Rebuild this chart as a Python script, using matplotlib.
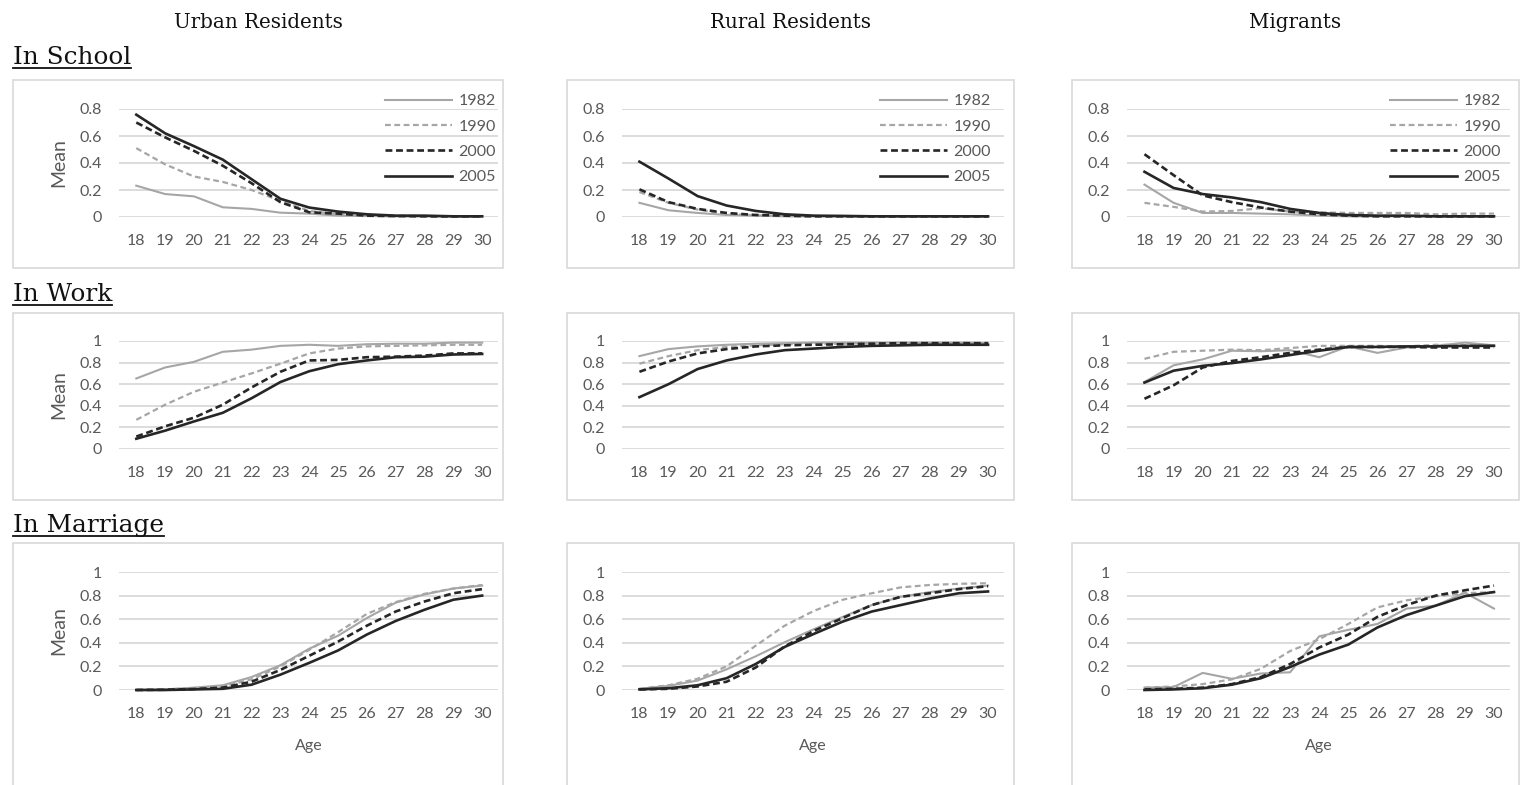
import matplotlib
matplotlib.use("Agg")
import matplotlib.pyplot as plt
from matplotlib.patches import Rectangle
from matplotlib.lines import Line2D

W, H = 1525, 785

ages = list(range(18, 31))
years = ["1982", "1990", "2000", "2005"]
groups = ["Urban Residents", "Rural Residents", "Migrants"]
outcomes = ["In School", "In Work", "In Marriage"]

# ---- In School ----
school_urban = {
    "1982": [0.232, 0.17, 0.153, 0.072, 0.06, 0.032, 0.025, 0.01, 0.007, 0.005, 0.005, 0.005, 0.005],
    "1990": [0.51, 0.39, 0.30, 0.26, 0.20, 0.12, 0.045, 0.02, 0.01, 0.007, 0.005, 0.005, 0.005],
    "2000": [0.70, 0.59, 0.49, 0.38, 0.25, 0.11, 0.035, 0.025, 0.01, 0.007, 0.005, 0.005, 0.005],
    "2005": [0.758, 0.62, 0.525, 0.425, 0.28, 0.135, 0.07, 0.04, 0.02, 0.01, 0.01, 0.005, 0.005],
}
school_rural = {
    "1982": [0.105, 0.05, 0.03, 0.015, 0.01, 0.005, 0.005, 0.005, 0.005, 0.005, 0.005, 0.005, 0.005],
    "1990": [0.185, 0.105, 0.055, 0.025, 0.012, 0.008, 0.005, 0.005, 0.005, 0.005, 0.005, 0.005, 0.005],
    "2000": [0.205, 0.11, 0.06, 0.03, 0.015, 0.01, 0.005, 0.005, 0.005, 0.005, 0.005, 0.005, 0.005],
    "2005": [0.41, 0.285, 0.155, 0.085, 0.045, 0.02, 0.01, 0.008, 0.005, 0.005, 0.005, 0.005, 0.005],
}
school_migr = {
    "1982": [0.24, 0.105, 0.03, 0.03, 0.025, 0.02, 0.01, 0.005, 0.005, 0.005, 0.005, 0.005, 0.005],
    "1990": [0.105, 0.075, 0.04, 0.045, 0.065, 0.04, 0.035, 0.03, 0.03, 0.03, 0.02, 0.025, 0.025],
    "2000": [0.465, 0.31, 0.16, 0.11, 0.07, 0.04, 0.02, 0.01, 0.005, 0.005, 0.005, 0.005, 0.005],
    "2005": [0.335, 0.215, 0.17, 0.145, 0.11, 0.06, 0.03, 0.015, 0.01, 0.01, 0.005, 0.005, 0.005],
}

# ---- In Work ----
work_urban = {
    "1982": [0.653, 0.755, 0.807, 0.90, 0.92, 0.955, 0.965, 0.955, 0.97, 0.975, 0.975, 0.985, 0.985],
    "1990": [0.27, 0.41, 0.53, 0.615, 0.70, 0.79, 0.885, 0.93, 0.95, 0.955, 0.96, 0.965, 0.965],
    "2000": [0.115, 0.21, 0.29, 0.41, 0.57, 0.715, 0.82, 0.825, 0.85, 0.855, 0.865, 0.885, 0.885],
    "2005": [0.095, 0.17, 0.255, 0.335, 0.47, 0.62, 0.72, 0.785, 0.82, 0.85, 0.855, 0.875, 0.88],
}
work_rural = {
    "1982": [0.86, 0.925, 0.95, 0.965, 0.975, 0.98, 0.985, 0.985, 0.985, 0.985, 0.985, 0.985, 0.98],
    "1990": [0.79, 0.86, 0.915, 0.945, 0.96, 0.97, 0.975, 0.975, 0.98, 0.98, 0.98, 0.98, 0.98],
    "2000": [0.715, 0.81, 0.885, 0.925, 0.95, 0.96, 0.965, 0.97, 0.975, 0.98, 0.98, 0.98, 0.98],
    "2005": [0.48, 0.60, 0.74, 0.82, 0.875, 0.915, 0.93, 0.945, 0.955, 0.96, 0.965, 0.965, 0.965],
}
work_migr = {
    "1982": [0.62, 0.775, 0.83, 0.91, 0.905, 0.915, 0.85, 0.95, 0.89, 0.94, 0.955, 0.985, 0.96],
    "1990": [0.835, 0.90, 0.91, 0.92, 0.915, 0.935, 0.955, 0.955, 0.955, 0.95, 0.965, 0.96, 0.96],
    "2000": [0.465, 0.59, 0.755, 0.815, 0.85, 0.89, 0.92, 0.945, 0.945, 0.945, 0.94, 0.94, 0.94],
    "2005": [0.615, 0.725, 0.77, 0.795, 0.83, 0.87, 0.91, 0.945, 0.945, 0.95, 0.95, 0.955, 0.955],
}

# ---- In Marriage ----
marr_urban = {
    "1982": [0.0, 0.005, 0.02, 0.04, 0.11, 0.21, 0.35, 0.46, 0.61, 0.74, 0.81, 0.86, 0.885],
    "1990": [0.0, 0.005, 0.015, 0.03, 0.09, 0.20, 0.34, 0.49, 0.645, 0.745, 0.815, 0.86, 0.89],
    "2000": [0.0, 0.002, 0.008, 0.02, 0.07, 0.17, 0.29, 0.41, 0.545, 0.665, 0.75, 0.82, 0.855],
    "2005": [0.0, 0.0, 0.005, 0.01, 0.045, 0.13, 0.23, 0.335, 0.47, 0.585, 0.68, 0.765, 0.80],
}
marr_rural = {
    "1982": [0.01, 0.035, 0.08, 0.175, 0.285, 0.405, 0.515, 0.62, 0.72, 0.79, 0.83, 0.86, 0.885],
    "1990": [0.01, 0.04, 0.095, 0.20, 0.375, 0.545, 0.67, 0.765, 0.82, 0.87, 0.89, 0.90, 0.905],
    "2000": [0.005, 0.01, 0.03, 0.07, 0.19, 0.37, 0.50, 0.61, 0.72, 0.79, 0.82, 0.855, 0.88],
    "2005": [0.005, 0.015, 0.04, 0.10, 0.22, 0.365, 0.475, 0.58, 0.665, 0.72, 0.775, 0.82, 0.835],
}
marr_migr = {
    "1982": [0.02, 0.025, 0.145, 0.095, 0.14, 0.15, 0.455, 0.51, 0.56, 0.69, 0.715, 0.825, 0.69],
    "1990": [0.02, 0.03, 0.05, 0.09, 0.18, 0.33, 0.43, 0.56, 0.70, 0.76, 0.795, 0.82, 0.83],
    "2000": [0.005, 0.01, 0.02, 0.05, 0.11, 0.22, 0.36, 0.47, 0.62, 0.72, 0.80, 0.845, 0.885],
    "2005": [0.0, 0.005, 0.015, 0.045, 0.10, 0.195, 0.30, 0.385, 0.53, 0.635, 0.715, 0.795, 0.83],
}

panels = [
    [school_urban, school_rural, school_migr],
    [work_urban, work_rural, work_migr],
    [marr_urban, marr_rural, marr_migr],
]
yticks_by_row = [
    [0, 0.2, 0.4, 0.6, 0.8],
    [0, 0.2, 0.4, 0.6, 0.8, 1],
    [0, 0.2, 0.4, 0.6, 0.8, 1],
]

styles = {
    "1982": dict(color="#a6a6a6", lw=1.5, ls="-"),
    "1990": dict(color="#a6a6a6", lw=1.6, ls=(0, (2.6, 1.6))),
    "2000": dict(color="#262626", lw=1.9, ls=(0, (2.6, 1.4))),
    "2005": dict(color="#262626", lw=1.9, ls="-"),
}

tick_col = "#595959"
grid_col = "#d9d9d9"
sans = ["Lato", "DejaVu Sans"]
serif = ["DejaVu Serif"]
fs = 11.5

fig = plt.figure(figsize=(W / 100, H / 100), dpi=100)

# pixel layout of the plot areas and frames
col_x = [(119, 498), (622, 1004), (1127, 1510)]
row_y = [(109, 217), (341, 449), (572, 690)]
box_x = [(13, 503), (567, 1014), (1072, 1519)]
box_y = [(80, 268), (313, 500), (543, 800)]
label_base = [64, 301, 532]


def fx(px):
    return px / W


def fy(py):
    return 1 - py / H


for bx in box_x:
    for by in box_y:
        fig.patches.append(Rectangle((fx(bx[0]), fy(by[1])), fx(bx[1] - bx[0]), (by[1] - by[0]) / H,
                                     transform=fig.transFigure, fill=False,
                                     edgecolor="#d9d9d9", lw=1.2))

for r in range(3):
    for c in range(3):
        x0, x1 = col_x[c]
        y0, y1 = row_y[r]
        ax = fig.add_axes([fx(x0), fy(y1), fx(x1 - x0), (y1 - y0) / H])
        data = panels[r][c]
        for yr in years:
            ax.plot(ages, data[yr], label=yr, clip_on=False, **styles[yr])
        yt = yticks_by_row[r]
        ax.set_ylim(0, yt[-1])
        ax.set_xlim(17.4, 30.55)
        ax.set_yticks(yt)
        ax.set_yticklabels([f"{v:g}" for v in yt])
        ax.set_xticks(ages)
        ax.set_xticklabels([str(a) for a in ages])
        ax.grid(axis="y", color=grid_col, lw=1.3)
        ax.set_axisbelow(True)
        for s in ax.spines.values():
            s.set_visible(False)
        ax.tick_params(length=0, colors=tick_col, labelsize=fs)
        ax.tick_params(axis="y", pad=12)
        ax.tick_params(axis="x", pad=12)
        for t in ax.get_xticklabels() + ax.get_yticklabels():
            t.set_family(sans)
        if c == 0:
            ax.set_ylabel("Mean", color=tick_col, fontsize=14, family=sans, labelpad=9)
        if r == 2:
            ax.set_xlabel("Age", color=tick_col, fontsize=fs, family=sans, labelpad=13)
        if r == 0:
            leg_x = [385, 880, 1390][c]
            ax.legend(loc="upper left", bbox_to_anchor=(fx(leg_x), fy(94)),
                      bbox_transform=fig.transFigure, frameon=False,
                      handlelength=4.2, handletextpad=0.4, labelspacing=0.7,
                      borderpad=0, borderaxespad=0,
                      prop={"family": sans, "size": fs}, labelcolor=tick_col)

for c, g in enumerate(groups):
    cx = (box_x[c][0] + box_x[c][1]) / 2
    fig.text(fx(cx), fy(28), g, ha="center", va="baseline", family=serif,
             fontsize=14.3, color="#111111")

fig.canvas.draw()
rend = fig.canvas.get_renderer()
for r, lab in enumerate(outcomes):
    t = fig.text(fx(13), fy(label_base[r]), lab, ha="left", va="baseline",
                 family=serif, fontsize=17.8, color="#111111")
    bb = t.get_window_extent(rend)
    uy = fy(label_base[r] + 3.5)
    fig.add_artist(Line2D([fx(bb.x0), fx(bb.x1)], [uy, uy], transform=fig.transFigure,
                          color="#111111", lw=1.3))

fig.savefig("out.png", dpi=100)
